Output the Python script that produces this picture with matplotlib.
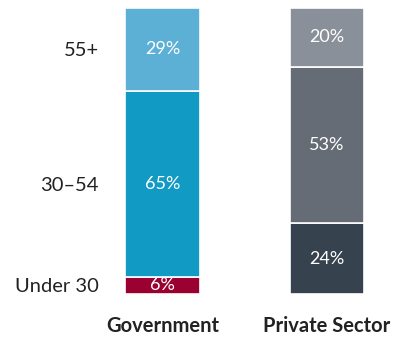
import matplotlib.pyplot as plt
import numpy as np

# Data
groups = ['Government', 'Private Sector']
age_bands = ['Under 30', '30–54', '55+']  # bottom to top
gov_values = [6, 65, 29]
private_values = [24, 53, 20]

gov_colors = ['#9a0030', '#119ac4', '#5cafd5']
private_colors = ['#37424f', '#666c75', '#8a9099']

plt.rcParams['font.family'] = ['Lato', 'DejaVu Sans']

fig = plt.figure(figsize=(3.93, 3.38), dpi=100)
ax = fig.add_axes([110 / 393, 44 / 338, 270 / 393, 286 / 338])

width = 0.45
for i, (vals, cols) in enumerate([(gov_values, gov_colors), (private_values, private_colors)]):
    vals = np.array(vals, dtype=float)
    shares = vals / vals.sum() * 100  # stack to full height
    bottom = 0
    for v, s, c in zip(vals, shares, cols):
        ax.bar(i, s, width, bottom=bottom, color=c, edgecolor='white', linewidth=1.2)
        ax.text(i, bottom + s / 2, f'{int(v)}%', ha='center', va='center',
                color='white', fontsize=13)
        bottom += s

# Age band labels aligned with government segments
gov = np.array(gov_values, dtype=float)
gov_shares = gov / gov.sum() * 100
centers = np.cumsum(gov_shares) - gov_shares / 2
ax.set_yticks(centers)
ax.set_yticklabels(age_bands, fontsize=14.5, color='#222222')
ax.tick_params(axis='y', length=0, pad=8)

ax.set_xticks([0, 1])
ax.set_xticklabels(groups, fontsize=14.5, fontweight='bold', color='#222222')
ax.tick_params(axis='x', length=0, pad=16)

ax.set_xlim(-0.319, 1.322)
ax.set_ylim(0, 100)
for s in ax.spines.values():
    s.set_visible(False)

fig.savefig('out.png', dpi=100)
